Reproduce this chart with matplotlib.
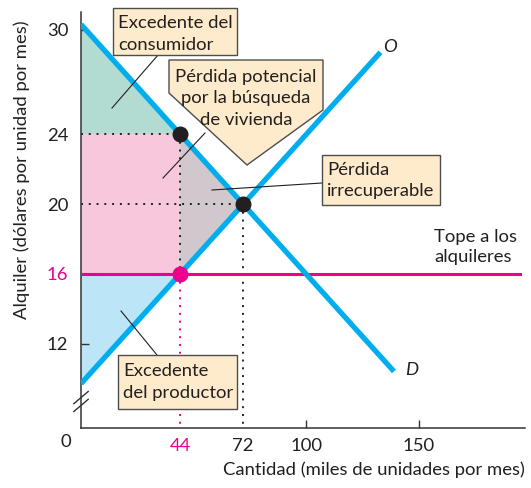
import matplotlib
matplotlib.use("Agg")
import matplotlib.pyplot as plt
from matplotlib.patches import Polygon, Rectangle

plt.rcParams['font.family'] = ['Lato', 'DejaVu Sans']

# datos del grafico
demanda_q = [0, 44, 72, 139]
demanda_p = [30.3, 24, 20, 10.4]
oferta_q = [0, 44, 72, 133]
oferta_p = [9.7, 16, 20, 28.7]
q_equilibrio, p_equilibrio = 72, 20
tope = 16
q_tope = 44
p_demanda_tope = 24
x_ticks = [44, 72, 100, 150]
y_ticks = [30, 24, 20, 16, 12]

azul = '#00aeef'
magenta = '#ec008c'
texto = '#231f20'
caja = '#fdebcb'
fs = 13.3

fig = plt.figure(figsize=(5.31, 4.88), dpi=100)
ax = fig.add_axes([81/531, 1-428/488, 444/531, 416/488])
ax.set_xlim(0, 197.2)
ax.set_ylim(7.156, 31.01)

# areas
ax.add_patch(Polygon([(0, demanda_p[0]), (0, p_demanda_tope), (q_tope, p_demanda_tope)],
                     closed=True, color='#b2dcd2', lw=0))
ax.add_patch(Rectangle((0, tope), q_tope, p_demanda_tope - tope, color='#f7c8dc', lw=0))
ax.add_patch(Polygon([(q_tope, p_demanda_tope), (q_equilibrio, p_equilibrio), (q_tope, tope)],
                     closed=True, color='#d0c8cd', lw=0))
ax.add_patch(Polygon([(0, tope), (q_tope, tope), (0, oferta_p[0])],
                     closed=True, color='#bde5f8', lw=0))

# lineas punteadas
punteado = (0, (1, 3))
ax.plot([0, q_tope], [p_demanda_tope, p_demanda_tope], color=texto, lw=1.4, ls=punteado)
ax.plot([q_tope, q_tope], [p_demanda_tope, tope], color=texto, lw=1.4, ls=punteado)
ax.plot([q_tope, q_tope], [tope, 7.156], color=magenta, lw=1.4, ls=punteado)
ax.plot([0, q_equilibrio], [p_equilibrio, p_equilibrio], color=texto, lw=1.4, ls=punteado)
ax.plot([q_equilibrio, q_equilibrio], [p_equilibrio, 7.156], color=texto, lw=1.4, ls=punteado)

# tope a los alquileres
ax.plot([0, 195], [tope, tope], color=magenta, lw=2.2, zorder=3)

# curvas
ax.plot([demanda_q[0], demanda_q[-1]], [demanda_p[0], demanda_p[-1]], color=azul, lw=3.8,
        solid_capstyle='butt', zorder=4)
ax.plot([oferta_q[0], oferta_q[-1]], [oferta_p[0], oferta_p[-1]], color=azul, lw=3.8,
        solid_capstyle='butt', zorder=4)

# puntos
ax.plot([q_tope, q_equilibrio], [p_demanda_tope, p_equilibrio], 'o', color=texto, ms=10.5, zorder=6)
ax.plot([q_tope], [tope], 'o', color=magenta, ms=10.5, zorder=6)

ax.text(137.2, 29.0, 'O', fontsize=fs, style='italic', color=texto, ha='center', va='center')
ax.text(147, 10.5, 'D', fontsize=fs, style='italic', color=texto, ha='center', va='center')

# ejes
for s in ['top', 'right']:
    ax.spines[s].set_visible(False)
for s in ['left', 'bottom']:
    ax.spines[s].set_color('#333333')
    ax.spines[s].set_linewidth(1.1)

ax.set_xticks(x_ticks)
ax.set_xticklabels([str(v) for v in x_ticks])
ax.set_yticks(y_ticks)
ax.set_yticklabels([str(v) for v in y_ticks])
ax.tick_params(direction='in', length=6, width=1, color='#333333', labelsize=fs,
               labelcolor=texto)
ax.tick_params(axis='x', pad=7)
ax.tick_params(axis='y', pad=9)
for i, t in enumerate(ax.xaxis.get_major_ticks()):
    if x_ticks[i] in (44, 72):
        t.tick1line.set_visible(False)
for i, t in enumerate(ax.yaxis.get_major_ticks()):
    if y_ticks[i] in (24, 20, 16):
        t.tick1line.set_visible(False)
ax.get_xticklabels()[0].set_color(magenta)
ax.get_yticklabels()[3].set_color(magenta)

ax.text(-6.7, 6.35, '0', fontsize=fs, color=texto, ha='center', va='center', clip_on=False)

# marca de corte en el eje
for y0 in [8.9, 8.45]:
    ax.plot([-3.2, 3.2], [y0 - 0.35, y0 + 0.35], color='#333333', lw=1, clip_on=False)

fig.text(22/531, 1-170/488, 'Alquiler (dólares por unidad por mes)', rotation=90,
         fontsize=fs, color=texto, ha='center', va='center')
fig.text(525/531, 1-470/488, 'Cantidad (miles de unidades por mes)', fontsize=fs,
         color=texto, ha='right', va='center')

# cajas de texto (coordenadas en pixeles de la figura)
def px(x, y):
    return (x/531, 1 - y/488)

def caja_texto(x0, y0, x1, y1, lineas, ys):
    fig.patches.append(Rectangle(px(x0, y1), (x1-x0)/531, (y1-y0)/488,
                                 transform=fig.transFigure, facecolor=caja,
                                 edgecolor='#4d4d4d', lw=1, zorder=10))
    for l, yy in zip(lineas, ys):
        fig.text(*px(x0 + 5, yy), l, fontsize=fs, color=texto,
                 ha='left', va='center', zorder=11)

def linea(x0, y0, x1, y1):
    fig.add_artist(plt.Line2D([x0/531, x1/531], [1-y0/488, 1-y1/488],
                              color=texto, lw=0.8, zorder=9))

linea(158, 55, 112, 108)
caja_texto(113, 8, 237, 55, ['Excedente del', 'consumidor'], [23, 45])

callout = Polygon([px(169, 60), px(323, 60), px(323, 110), px(247, 165), px(169, 93)],
                  closed=True, transform=fig.transFigure, facecolor=caja,
                  edgecolor='#4d4d4d', lw=1, zorder=10)
fig.patches.append(callout)
for l, yy in zip(['Pérdida potencial', 'por la búsqueda', 'de vivienda'], [77, 98, 120]):
    fig.text(*px(246, yy), l, fontsize=fs, color=texto, ha='center', va='center', zorder=11)
linea(205, 133, 163, 178)

linea(322, 183, 212, 190)
caja_texto(322, 155, 440, 205, ['Pérdida', 'irrecuperable'], [170, 191])

linea(157, 355, 121, 311)
caja_texto(118, 355, 237, 409, ['Excedente', 'del productor'], [371, 393])

fig.text(*px(434, 237), 'Tope a los', fontsize=fs, color=texto, ha='left', va='center')
fig.text(*px(434, 257), 'alquileres', fontsize=fs, color=texto, ha='left', va='center')

fig.savefig('out.png', dpi=100)
